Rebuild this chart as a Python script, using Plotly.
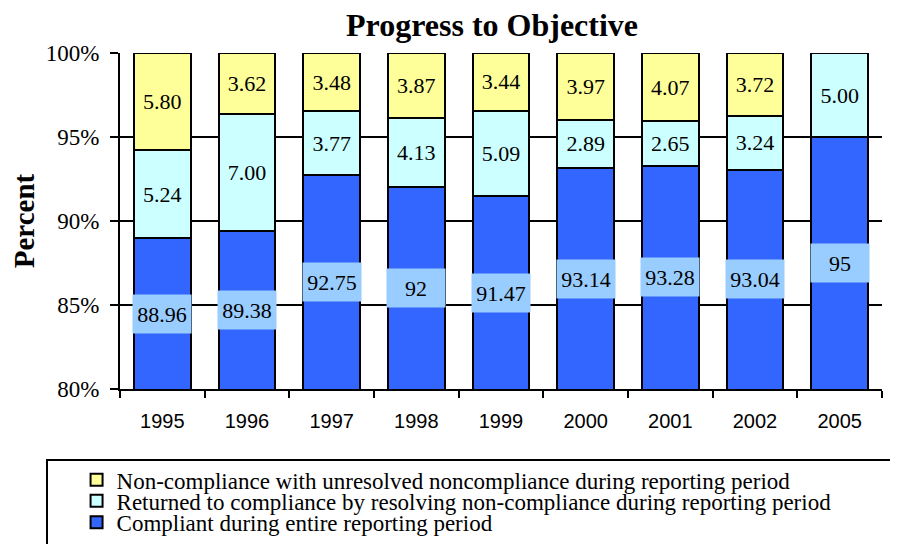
import plotly.graph_objects as go

years = ["1995", "1996", "1997", "1998", "1999", "2000", "2001", "2002", "2005"]
compliant = [88.96, 89.38, 92.75, 92, 91.47, 93.14, 93.28, 93.04, 95]
returned = [5.24, 7.00, 3.77, 4.13, 5.09, 2.89, 2.65, 3.24, 5.00]
noncompliant = [5.80, 3.62, 3.48, 3.87, 3.44, 3.97, 4.07, 3.72, 0]

names = [
    "Compliant during entire reporting period",
    "Returned to compliance by resolving non-compliance during reporting period",
    "Non-compliance with unresolved noncompliance during reporting period",
]
colors = ["#3366FF", "#CCFFFF", "#FFFF99"]
legend_ids = ["legend3", "legend2", "legend"]
AXIS_MIN, AXIS_MAX = 80, 100

serif = "Liberation Serif, Times New Roman, serif"

fig = go.Figure()
series = [compliant, returned, noncompliant]
for i, (vals, name, col) in enumerate(zip(series, names, colors)):
    text = None if i == 0 else [f"{v:.2f}" if v > 0 else "" for v in vals]
    fig.add_trace(go.Bar(
        x=years, y=vals, name=name, legend=legend_ids[i],
        marker=dict(color=col, line=dict(color="black", width=2)),
        text=text, textposition="inside" if text else None,
        insidetextanchor="middle", textangle=0,
        textfont=dict(family=serif, size=22, color="black"),
        constraintext="none",
        hoverinfo="skip",
    ))

# category axis: annotations use category index; centred in visible segment
for idx, v in enumerate(compliant):
    fig.add_annotation(
        x=idx, y=(AXIS_MIN + v) / 2, text=f"{v:g}", showarrow=False,
        bgcolor="#99CCFF", width=54, height=34, borderpad=2,
        font=dict(family=serif, size=22, color="black"),
    )

leg_common = dict(x=-0.057, xanchor="left", yanchor="middle",
                  bgcolor="rgba(0,0,0,0)", itemwidth=30,
                  font=dict(family=serif, size=23, color="black"))

fig.update_layout(
    barmode="stack",
    bargap=0.33,
    width=898, height=544,
    margin=dict(l=112, r=24, t=45, b=163, autoexpand=False),
    paper_bgcolor="white", plot_bgcolor="white",
    title=dict(text="<b>Progress to Objective</b>", x=0.539, xanchor="center",
               y=0.97, yanchor="middle",
               font=dict(family=serif, size=32, color="black")),
    showlegend=True,
    legend=dict(y=-0.27, **leg_common),
    legend2=dict(y=-0.333, **leg_common),
    legend3=dict(y=-0.397, **leg_common),
    xaxis=dict(type="category", range=[-0.5, len(years) - 0.5],
               showline=True, linecolor="black", linewidth=2,
               ticks="outside", tickson="boundaries", ticklen=7,
               tickwidth=2, tickcolor="black", ticklabelstandoff=13,
               tickfont=dict(family="Liberation Sans, Arial, sans-serif", size=20, color="black")),
    yaxis=dict(range=[AXIS_MIN, AXIS_MAX], dtick=5, ticksuffix="%",
               showline=True, linecolor="black", linewidth=2,
               ticks="outside", ticklen=8, tickwidth=2, tickcolor="black",
               ticklabelstandoff=6,
               showgrid=True, gridcolor="black", gridwidth=2,
               tickfont=dict(family=serif, size=23, color="black"),
               title=dict(text="<b>Percent</b>", standoff=14,
                          font=dict(family=serif, size=29, color="black"))),
)
fig.add_shape(type="rect", xref="paper", yref="paper",
              x0=-0.0958, x1=1.06, y0=-0.211, y1=-0.7,
              line=dict(color="black", width=2))

fig.write_html("out.html")
